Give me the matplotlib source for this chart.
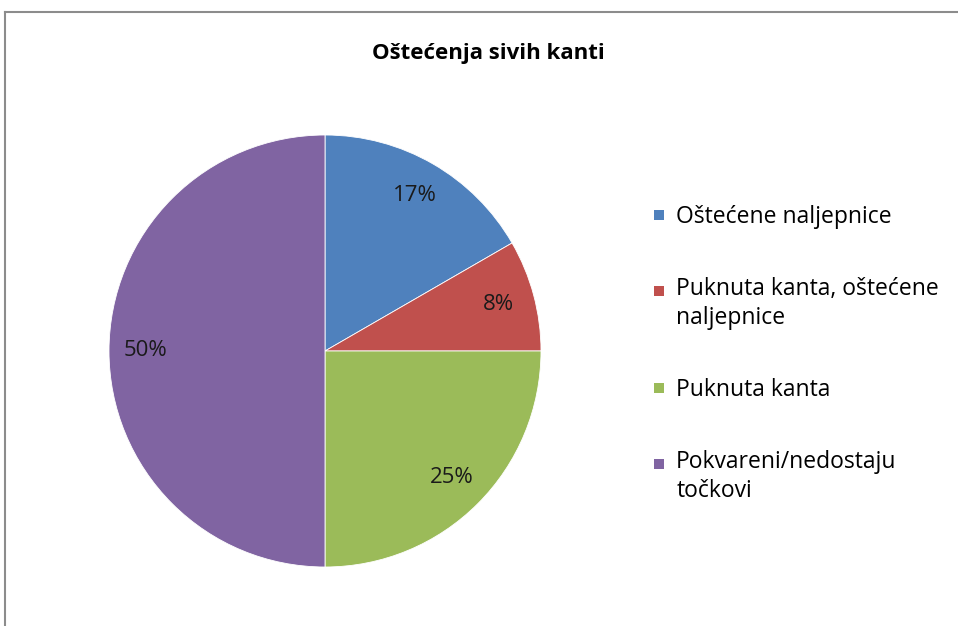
import matplotlib
matplotlib.use("Agg")
import matplotlib.pyplot as plt
from matplotlib.lines import Line2D
from matplotlib.patches import Patch, Rectangle

title = "Oštećenja sivih kanti"
categories = ["Oštećene naljepnice", "Puknuta kanta, oštećene\nnaljepnice",
              "Puknuta kanta", "Pokvareni/nedostaju\ntočkovi"]
values = [2, 1, 3, 6]
colors = ["#4F81BD", "#C0504D", "#9BBB59", "#8064A2"]

plt.rcParams['font.family'] = ['Open Sans', 'DejaVu Sans']

W, H = 958, 626
fig = plt.figure(figsize=(W / 100, H / 100), dpi=100)

cx, cy, R = 325, 351, 216
ax = fig.add_axes([(cx - R) / W, (H - cy - R) / H, 2 * R / W, 2 * R / H])
wedges, texts, autotexts = ax.pie(
    values, colors=colors, startangle=90, counterclock=False,
    autopct=lambda p: f"{p:.0f}%", pctdistance=0.83, radius=1,
    wedgeprops=dict(edgecolor="white", linewidth=0.6),
    textprops=dict(fontsize=16, color="#1a1a1a"))
ax.set_xlim(-1, 1)
ax.set_ylim(-1, 1)
ax.set_aspect("equal")

fig.text(488 / W, 1 - 53 / H, title, ha="center", va="center",
         fontsize=16, fontweight="bold")

LEG_FS = 16.5
LINE_PT = 10.0  # half of the in-entry line gap, points


class SquareHandler:
    def __init__(self, nlines):
        self.nlines = nlines

    def legend_artist(self, legend, orig_handle, fontsize, handlebox):
        s = 7.2
        w, h = handlebox.width, handlebox.height
        x0 = -handlebox.xdescent + (w - s) / 2
        y0 = -handlebox.ydescent + (h - s) / 2
        y0 += (self.nlines - 1) * LINE_PT
        p = Rectangle((x0, y0), s, s, facecolor=orig_handle.get_facecolor(),
                      edgecolor="none", transform=handlebox.get_transform())
        handlebox.add_artist(p)
        return p


handles = [Patch(facecolor=c) for c in colors]
hmap = {h: SquareHandler(lab.count("\n") + 1) for h, lab in zip(handles, categories)}
leg = fig.legend(handles, categories, loc="upper left", handler_map=hmap,
                 bbox_to_anchor=(651 / W, 1 - 205 / H), frameon=False,
                 fontsize=LEG_FS, handlelength=0.7, handletextpad=0.4,
                 labelspacing=2.1, borderaxespad=0, borderpad=0)
for t in leg.get_texts():
    t.set_linespacing(1.27)

# chart border (top and left only visible)
fig.add_artist(Line2D([5 / W, 1], [1 - 12 / H, 1 - 12 / H], color="#8c8c8c", lw=1.5))
fig.add_artist(Line2D([5 / W, 5 / W], [0, 1 - 12 / H], color="#8c8c8c", lw=1.5))

fig.savefig("out.png", dpi=100)
